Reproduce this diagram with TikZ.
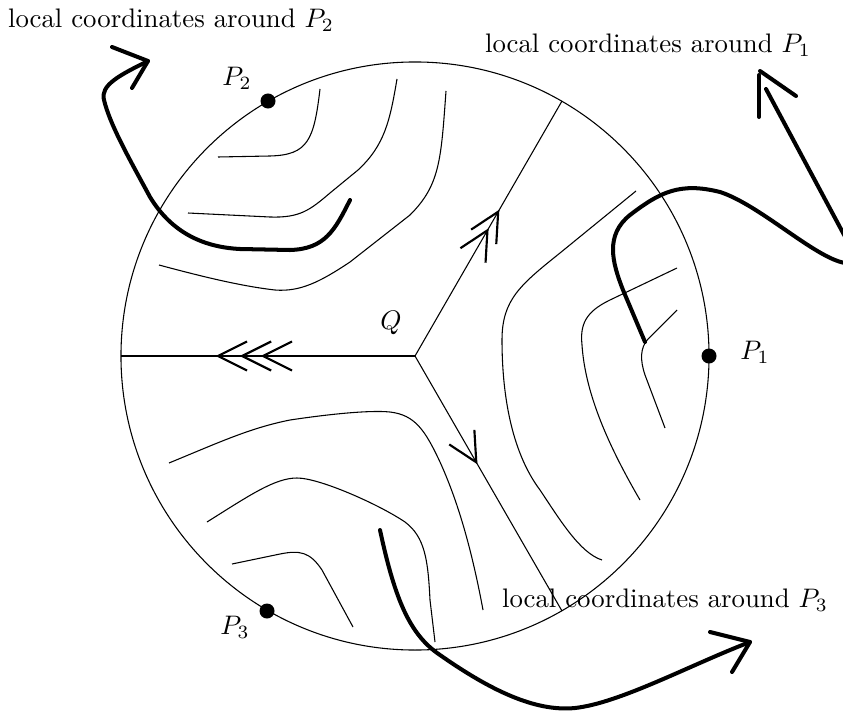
\documentclass[tikz,border=0pt]{standalone}
\usetikzlibrary{decorations.markings}
\newcommand{\mychev}{\draw[line width=0.8pt] (-29,14.5) -- (0,0) -- (-29,-14.5);}
\begin{document}
\begin{tikzpicture}[x=0.3731pt,y=-0.3731pt,
  flow/.style={line width=0.4pt},
  thickpath/.style={line width=1.5pt, line cap=round, line join=round},
  dot/.style={circle, fill, inner sep=0pt, minimum size=5.6pt},
  lbl/.style={inner sep=0pt},
  markone/.style={postaction={decorate}, decoration={markings,
     mark=at position 0.417 with {\mychev}}},
  marktwo/.style={postaction={decorate}, decoration={markings,
     mark=at position 0.493 with {\mychev},
     mark=at position 0.566 with {\mychev}}},
  markthree/.style={postaction={decorate}, decoration={markings,
     mark=at position 0.517 with {\mychev},
     mark=at position 0.588 with {\mychev},
     mark=at position 0.670 with {\mychev}}}]
\useasboundingbox (0,0) rectangle (843,713);
\clip (0,0) rectangle (843,713);

% circle and centre
\coordinate (Q) at (415,356);
\draw[flow] (Q) circle[radius=109.7pt];
\coordinate (W) at (121,356);
\coordinate (NE) at (562,101);
\coordinate (SE) at (562,611);
\draw[flow, markthree] (Q) -- (W);
\draw[flow, marktwo] (Q) -- (NE);
\draw[flow, markone] (Q) -- (SE);

% points
\node[dot] (P1) at (709,356) {};
\node[dot] (P2) at (268,101) {};
\node[dot] (P3) at (267,611) {};
\node[lbl] (P1l) at (755,352) {$P_1$};
\node[lbl] (P2l) at (237,78) {$P_2$};
\node[lbl] (P3l) at (235,627) {$P_3$};
\node[lbl] (Ql) at (391,323) {$Q$};

% labels
\node[lbl] (L2) at (171,20) {local coordinates around $P_2$};
\node[lbl] (L1) at (648,45) {local coordinates around $P_1$};
\node[lbl] (L3) at (665,600) {local coordinates around $P_3$};

% flow lines, sector around P2
\draw[flow] (320,89) .. controls (314,140) and (308,155) .. (270,156) -- (218,157);
\draw[flow] (397,79) .. controls (390,120) and (385,145) .. (358,170) -- (330,193)
  .. controls (310,210) and (300,218) .. (270,217) -- (188,213);
\draw[flow] (446,91) .. controls (441,160) and (440,185) .. (410,215) -- (350,262)
  .. controls (320,282) and (300,292) .. (275,290) .. controls (240,286) and (200,276) .. (159,265);

% flow lines, sector around P3
\draw[flow] (169,463) .. controls (220,442) and (250,428) .. (290,420)
  .. controls (330,414) and (370,410) .. (390,412)
  .. controls (415,415) and (425,430) .. (440,462)
  .. controls (455,495) and (470,540) .. (483,610);
\draw[flow] (207,522) .. controls (250,495) and (275,478) .. (297,478)
  .. controls (320,478) and (380,505) .. (405,522)
  .. controls (425,537) and (428,560) .. (430,600) -- (435,642);
\draw[flow] (232,564) -- (280,554) .. controls (300,550) and (310,552) .. (322,570) -- (353,627);

% flow lines, sector around P1
\draw[flow] (636,191) -- (560,253) .. controls (520,285) and (502,300) .. (502,340)
  .. controls (502,390) and (510,450) .. (540,490)
  .. controls (560,520) and (580,553) .. (602,560);
\draw[flow] (677,268) -- (610,300) .. controls (585,312) and (580,325) .. (582,345)
  .. controls (585,390) and (605,440) .. (640,500);
\draw[flow] (677,310) -- (648,339) .. controls (640,348) and (640,360) .. (645,375) -- (665,428);

% thick curve P2
\coordinate (T2e) at (148,61);
\draw[thickpath] (350,200) .. controls (335,230) and (325,249) .. (290,250) -- (240,249)
  .. controls (200,247) and (170,230) .. (150,197)
  .. controls (130,160) and (110,125) .. (104,100)
  .. controls (100,85) and (120,75) .. (T2e);
\draw[thickpath] (112,47) -- (T2e) -- (132,88);

% thick curve P1
\coordinate (T1e) at (766,89);
\draw[thickpath] (645,342) -- (623,290) .. controls (612,262) and (605,235) .. (630,215)
  .. controls (660,192) and (680,182) .. (720,192)
  .. controls (760,205) and (815,258) .. (845,263)
  .. controls (858,263) and (856,255) .. (850,246) -- (T1e);
\draw[thickpath] (759,75) -- (759,117);
\draw[thickpath] (760,71) -- (796,96);

% thick curve P3
\coordinate (T3e) at (750,642);
\draw[thickpath] (380,530) .. controls (395,600) and (410,635) .. (440,655)
  .. controls (490,690) and (535,712) .. (575,708)
  .. controls (620,703) and (690,665) .. (T3e);
\draw[thickpath] (710,632) -- (T3e) -- (732,672);
\end{tikzpicture}
\end{document}
